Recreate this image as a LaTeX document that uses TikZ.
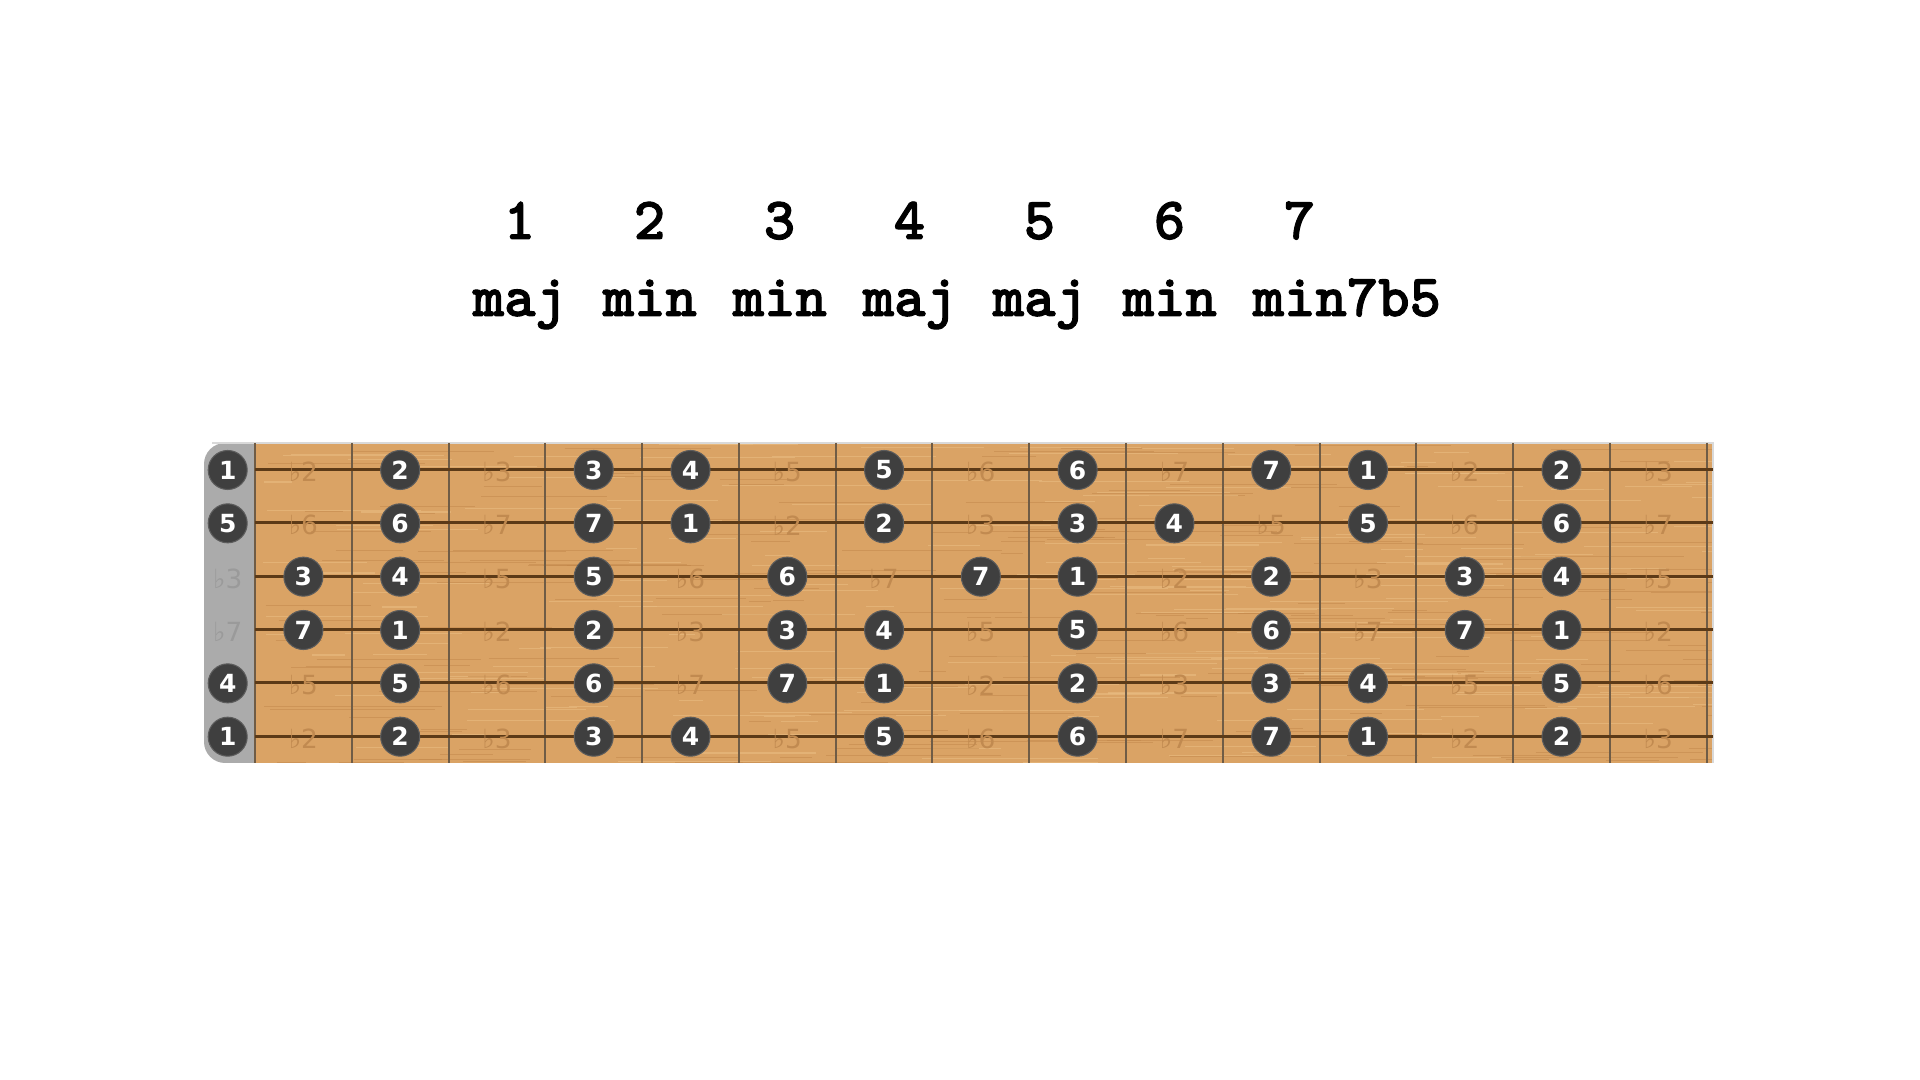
\documentclass[tikz,border=0pt]{standalone}
\usepackage{fontspec}
\usetikzlibrary{positioning}
\newfontfamily\dotfont{DejaVu Sans}
\newfontfamily\chordfont[FakeBold=1.6]{lmmonolt10-bold.otf}

\definecolor{wood}{HTML}{DAA365}
\definecolor{woodgrain}{HTML}{C2874A}
\definecolor{woodlight}{HTML}{E9BC82}
\definecolor{nutgray}{HTML}{ABABAB}
\definecolor{stringbrown}{HTML}{5C3A17}
\definecolor{fretbrown}{HTML}{6F5C46}
\definecolor{dotgray}{HTML}{3F3F3F}
\definecolor{ghostwood}{HTML}{C18A50}
\definecolor{ghostnut}{HTML}{9A9A9A}

% degree name and major scale test for a semitone 0..11
\newcommand\degname[1]{\ifcase#1 1\or ♭2\or 2\or ♭3\or 3\or 4\or ♭5\or 5\or ♭6\or 6\or ♭7\or 7\fi}
\newcommand\inmajor[1]{\ifcase#1 1\or 0\or 1\or 0\or 1\or 1\or 0\or 1\or 0\or 1\or 0\or 1\fi}

\begin{document}
\begin{tikzpicture}[
  x=0.01cm, y=-0.01cm,
  notedot/.style={circle, fill=dotgray, draw=dotgray!85!white, line width=0.3pt,
    minimum size=0.39cm, inner sep=0pt, text=white, font=\dotfont\bfseries\fontsize{7.1}{8}\selectfont},
  ghost/.style={inner sep=0pt, text=ghostwood, font=\dotfont\fontsize{7.5}{8}\selectfont},
  degree/.style={inner sep=0pt, font=\chordfont\fontsize{17}{20}\selectfont},
  guitarstring/.style={stringbrown, line width=0.9pt},
  fretline/.style={fretbrown, line width=0.55pt}
]
  \useasboundingbox (0,0) rectangle (1920,1080);

  % Degrees and chord qualities
  \foreach \n/\q [count=\i from 0] in {1/maj,2/min,3/min,4/maj,5/maj,6/min,7/min7b5} {
    \node[degree, anchor=base] (num-\n) at (519.5+\i*130,239) {\n};
    \node[degree, anchor=base west] (chord-\n) at (472+\i*130,316) {\q};
  }

  % Board
  \fill[nutgray, rounded corners=6] (204,443) rectangle (300,763);
  \fill[wood] (255,443) rectangle (1713,763);
  \begin{scope}
    \clip (255,443) rectangle (1713,763);
    \pgfmathsetseed{42}
    \foreach \g in {1,...,420} {
      \pgfmathsetmacro\gx{255+rnd*1460}
      \pgfmathsetmacro\gy{443+rnd*320}
      \pgfmathsetmacro\gl{20+rnd*160}
      \pgfmathtruncatemacro\gc{rnd<0.5 ? 1 : 0}
      \ifnum\gc=1
        \draw[woodgrain, opacity=0.5, line width=0.25pt] (\gx,\gy) -- ++(\gl,0);
      \else
        \draw[woodlight, opacity=0.6, line width=0.3pt] (\gx,\gy) -- ++(\gl,0);
      \fi
    }
  \end{scope}
  \draw[black!15, line width=0.3pt] (212,443) -- (1713,443) -- (1713,763);

  % Frets
  \foreach \k in {0,...,15}
    \draw[fretline] (255+\k*96.78,443) -- (255+\k*96.78,763);

  % Strings
  \foreach \r in {0,...,5}
    \draw[guitarstring] (255,469.5+\r*53.34) -- (1713,469.5+\r*53.34);

  % Notes on each string, open string degree given as a semitone offset
  \foreach \o [count=\r from 0] in {0,7,3,10,5,0} {
    \foreach \c in {0,...,15} {
      \pgfmathtruncatemacro\s{mod(\o+\c,12)}
      \pgfmathsetmacro\xx{\c==0 ? 227.7 : 255+(\c-0.5)*96.78}
      \pgfmathsetmacro\yy{470+\r*53.34}
      \ifnum\inmajor{\s}=1
        \node[notedot] (dot-\r-\c) at (\xx,\yy) {\degname{\s}};
      \else
        \ifnum\c=0
          \node[ghost, text=ghostnut] (dot-\r-\c) at (\xx,\yy+2) {\degname{\s}};
        \else
          \node[ghost] (dot-\r-\c) at (\xx,\yy+2) {\degname{\s}};
        \fi
      \fi
    }
  }
\end{tikzpicture}
\end{document}
